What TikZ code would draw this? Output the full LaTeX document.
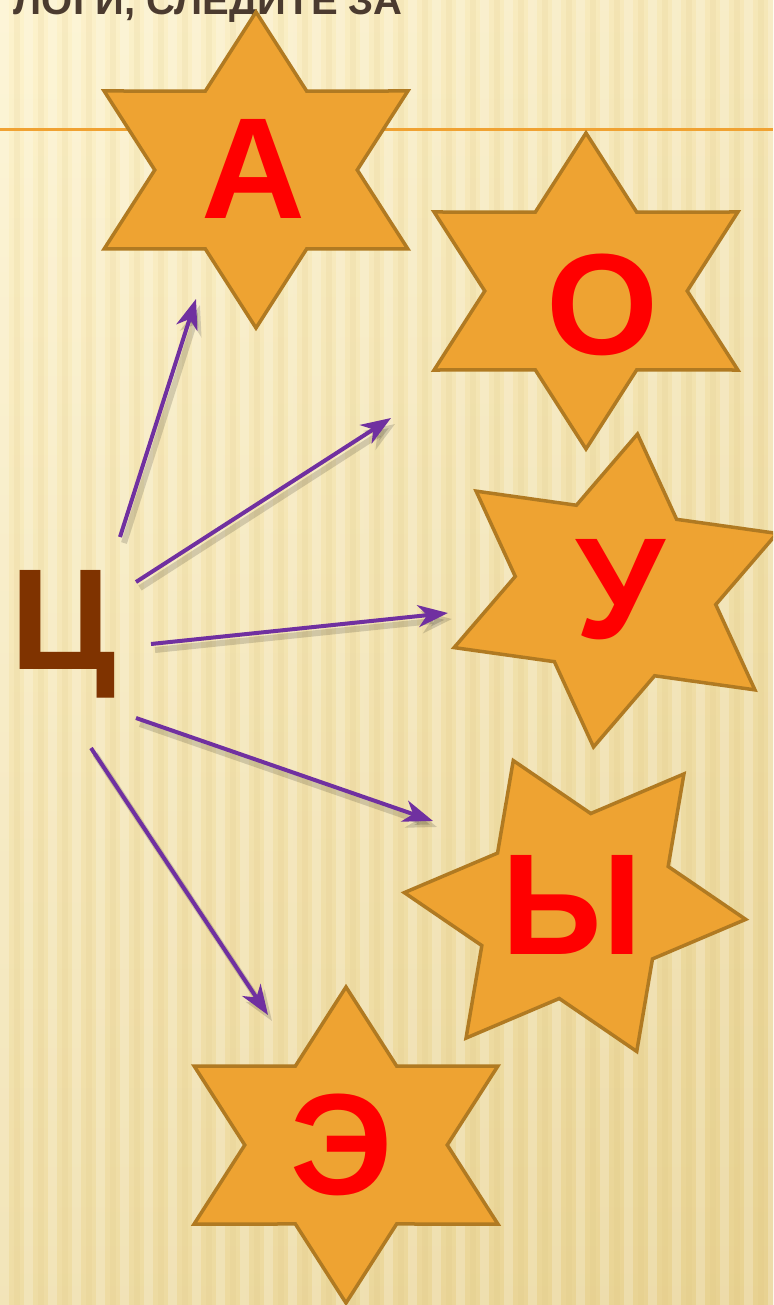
\documentclass[tikz,border=0pt]{standalone}
\usepackage{fontspec}
\setmainfont{Liberation Sans}
\usetikzlibrary{arrows.meta}
\definecolor{bgtop}{HTML}{FDF3CD}
\definecolor{bgbot}{HTML}{E8D291}
\definecolor{stripec}{HTML}{D9BE78}
\definecolor{starfill}{HTML}{EEA332}
\definecolor{stardraw}{HTML}{B07A22}
\definecolor{arrowc}{HTML}{7030A0}
\definecolor{letterc}{HTML}{FF0000}
\definecolor{tsec}{HTML}{7F3300}
\definecolor{titlec}{HTML}{4B3B2F}
\definecolor{hlinec}{HTML}{F0A232}
\tikzset{
  starsty/.style={fill=starfill, draw=stardraw, line width=3.5pt, line join=miter},
  lettersty/.style={text=letterc, font=\fontsize{144}{144}\selectfont\bfseries, inner sep=0pt, anchor=base},
  arrowsty/.style={draw=arrowc, line width=4pt, -{Stealth[length=30pt, width=22pt, inset=9pt]}},
  arrshadow/.style={draw=black, line width=6pt, opacity=0.15, -{Stealth[length=30pt, width=22pt, inset=9pt]}},
  hlinesty/.style={draw=hlinec, line width=3pt}
}
\newcommand\hexstarpath{(90:158pt) -- (120:91.2pt) -- (150:158pt) -- (180:91.2pt) -- (210:158pt) -- (240:91.2pt) -- (270:158pt) -- (300:91.2pt) -- (330:158pt) -- (0:91.2pt) -- (30:158pt) -- (60:91.2pt) -- cycle}
\newcommand\drawhexstar[3]{%
  \begin{scope}[shift={(#1,#2)}, rotate=#3, xscale=1.11]
    \draw[starsty] \hexstarpath;
  \end{scope}}
\begin{document}
\begin{tikzpicture}[x=1pt,y=-1pt]
\useasboundingbox (0,0) rectangle (773,1305);
\clip (0,0) rectangle (773,1305);
% background
\shade[top color=bgtop, bottom color=bgbot] (0,0) rectangle (773,1305);
\shade[left color=bgtop, right color=bgbot, opacity=0.35] (0,0) rectangle (773,1305);
\foreach \i in {0,...,32} {
  \fill[white, opacity=0.22] (\i*24,0) rectangle ++(9,1305);
  \fill[stripec, opacity=0.12] (\i*24+14,0) rectangle ++(6,1305);
}
% title (cut off at top, as in the reference)
\node[anchor=base east, font=\fontsize{40}{40}\selectfont\bfseries, text=titlec, inner sep=0pt] (title) at (403,15) {ЛОГИ, СЛЕДИТЕ ЗА};
% orange rule
\coordinate (hl) at (0,129.5);
\coordinate (hr) at (773,129.5);
\draw[hlinesty] (hl) -- (hr);
% stars
\drawhexstar{256}{170}{0}
\drawhexstar{586}{291}{0}
\drawhexstar{615.5}{590.5}{-8}
\drawhexstar{575}{906}{23}
\drawhexstar{346}{1145}{0}
% letters
\node[lettersty] (la) at (253,219) {А};
\node[lettersty] (lo) at (602,354) {О};
\node[lettersty] (lu) at (620,638) {У};
\node[lettersty] (ly) at (572,954) {Ы};
\node[lettersty] (le) at (342,1194) {Э};
\node[lettersty, text=tsec, anchor=base west] (ts) at (10,669) {Ц};
% arrow end points
\coordinate (s1) at (120,537); \coordinate (e1) at (196,299);
\coordinate (s2) at (136,582); \coordinate (e2) at (391,418);
\coordinate (s3) at (151,644); \coordinate (e3) at (448,613);
\coordinate (s4) at (136,718); \coordinate (e4) at (433,821);
\coordinate (s5) at (91,748);  \coordinate (e5) at (268,1015);
\foreach \k in {1,...,5} {
  \draw[arrshadow] ([shift={(4,6)}]s\k) -- ([shift={(4,6)}]e\k);
}
\foreach \k in {1,...,5} {
  \draw[arrowsty] (s\k) -- (e\k);
}
\end{tikzpicture}
\end{document}
